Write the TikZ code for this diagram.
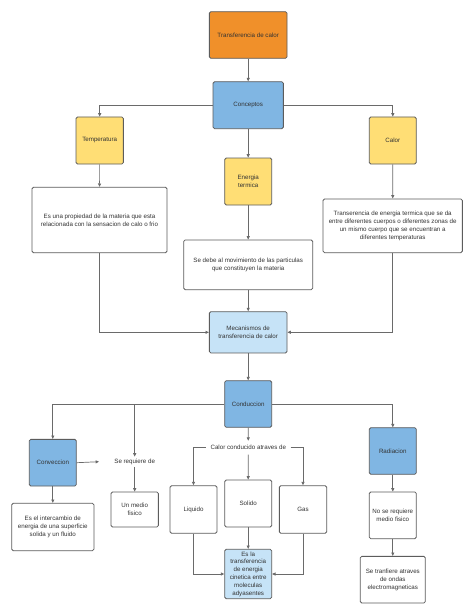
\documentclass[tikz,border=0pt]{standalone}
\usepackage{fontspec}
\setmainfont{Liberation Sans}
\usetikzlibrary{arrows.meta}
\definecolor{corange}{HTML}{F0902A}
\definecolor{cblue}{HTML}{80B6E3}
\definecolor{clight}{HTML}{C6E3F7}
\definecolor{cyellow}{HTML}{FFDE75}
\definecolor{cborder}{HTML}{5C5C5C}
\definecolor{cline}{HTML}{6A6A6A}
\definecolor{ctext}{HTML}{333333}
\begin{document}
\begin{tikzpicture}[x=1pt,y=-1pt,
  box/.style={draw=cborder, line width=0.8pt, rounded corners=1.5pt, inner sep=1pt,
    align=center, text=ctext, font=\fontsize{6.2}{7.8}\selectfont},
  plain/.style={inner sep=2pt, align=center, text=ctext, font=\fontsize{6.2}{7.8}\selectfont},
  arr/.style={draw=cline, line width=0.7pt, -{Triangle[length=3.4pt,width=3pt]}},
  sz/.style 2 args={minimum width=#1pt, minimum height=#2pt}]
\useasboundingbox (0,0) rectangle (474,615);
\fill[white] (0,0) rectangle (474,615);

\node[box, fill=corange, sz={77.7}{46.6}] (top) at (248.2,35) {Transferencia de calor};
\node[box, fill=cblue, sz={70.3}{47}] (concept) at (248.2,105.2) {Conceptos};
\node[box, fill=cyellow, sz={47.3}{47}] (temp) at (99.7,140.5) {Temperatura};
\node[box, fill=cyellow, sz={47}{47}] (calor) at (392.8,140.5) {Calor};
\node[box, fill=cyellow, sz={47}{47}] (energ) at (248.2,181.5) {Energia\\termica};
\node[box, fill=white, sz={135}{65.4}] (tempdesc) at (99.5,220) {Es una propiedad de la materia que esta\\relacionada con la sensacion de calo o frio};
\node[box, fill=white, sz={139.3}{53.7}] (calordesc) at (392.7,225.8) {Transerencia de energia termica que se da\\entre diferentes cuerpos o diferentes zonas de\\un mismo cuerpo que se encuentran a\\diferentes temperaturas};
\node[box, fill=white, sz={129}{49.7}] (energdesc) at (248.2,264.8) {Se debe al movimiento de las particulas\\que constituyen la materia};
\node[box, fill=clight, sz={77.7}{41.3}] (mec) at (248.2,332.3) {Mecanismos de\\transferencia de calor};
\node[box, fill=cblue, sz={47}{46.6}] (cond) at (248.2,404) {Conduccion};
\node[box, fill=cblue, sz={47}{46.7}] (convec) at (52.8,462.7) {Conveccion};
\node[box, fill=cblue, sz={47}{46.6}] (radia) at (392.8,451) {Radiacion};
\node[plain] (sreq) at (134.7,461.7) {Se requiere de};
\node[box, fill=white, sz={47.3}{35}] (medio) at (134.7,509.5) {Un medio\\fisico};
\node[plain, inner sep=4.5pt] (ccond) at (248.3,447.7) {Calor conducido atraves de};
\node[box, fill=white, sz={47}{47.6}] (liq) at (193.5,509.5) {Liquido};
\node[box, fill=white, sz={47}{47}] (sol) at (248.2,503.5) {Solido};
\node[box, fill=white, sz={47.3}{47.6}] (gas) at (303,509.5) {Gas};
\node[box, fill=clight, sz={47}{49.4}] (esla) at (248.2,574) {Es la\\transferencia\\de energia\\cinetica entre\\moleculas\\adyasentes};
\node[box, fill=white, sz={82.3}{47.4}] (convdesc) at (52.8,527) {Es el intercambio de\\energia de una superficie\\solida y un fluido};
\node[box, fill=white, sz={47}{46.7}] (nose) at (392.8,515.3) {No se requiere\\medio fisico};
\node[box, fill=white, sz={65}{46.7}] (setr) at (392.8,579.7) {Se tranfiere atraves\\de ondas\\electromagneticas};

\coordinate (br) at (sreq |- cond.west);
\coordinate (sreqin) at (99,461.7);

\draw[arr] (top) -- (concept);
\draw[arr] (concept.west) -| (temp.north);
\draw[arr] (concept.east) -| (calor.north);
\draw[arr] (concept) -- (energ);
\draw[arr] (temp) -- (tempdesc);
\draw[arr] (calor) -- (calordesc);
\draw[arr] (energ) -- (energdesc);
\draw[arr] (energdesc) -- (mec);
\draw[arr] (tempdesc.south) |- (mec.west);
\draw[arr] (calordesc.south) |- (mec.east);
\draw[arr] (mec) -- (cond);
\draw[arr] (cond.west) -| (convec.north);
\draw[arr] (br) -- (sreq.north);
\draw[arr] (cond.east) -| (radia.north);
\draw[arr] (convec.east) -- (sreqin);
\draw[arr] (sreq.south) -- (medio.north);
\draw[arr] (cond) -- (ccond);
\draw[arr] (ccond.west) -| (liq.north);
\draw[arr] (ccond.east) -| (gas.north);
\draw[arr] (ccond.south) -- (sol.north);
\draw[arr] (liq.south) |- (esla.west);
\draw[arr] (gas.south) |- (esla.east);
\draw[arr] (sol) -- (esla);
\draw[arr] (convec) -- (convdesc);
\draw[arr] (radia) -- (nose);
\draw[arr] (nose) -- (setr);
\end{tikzpicture}
\end{document}
